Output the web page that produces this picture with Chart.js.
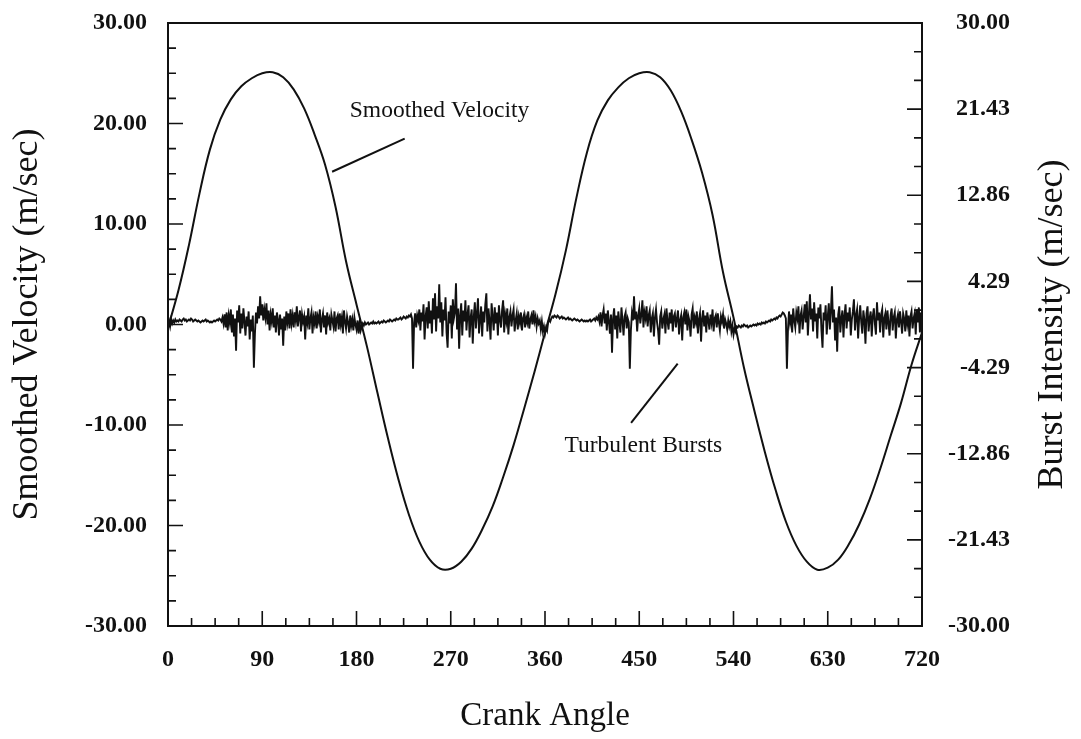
<!DOCTYPE html>
<html>
<head>
<meta charset="utf-8">
<title>Smoothed Velocity and Turbulent Bursts</title>
<script src="https://cdn.jsdelivr.net/npm/chart.js@4.4.0/dist/chart.umd.min.js"></script>
<style>
  html, body { margin: 0; padding: 0; background: #fff; }
  #wrap { width: 1081px; height: 739px; position: relative; }
</style>
</head>
<body>
<div id="wrap"><canvas id="crankChart"></canvas></div>
<script>
// Crank angle spacing (deg) of the two recorded series
const velocityStep = 10;
const burstStep = 1;

// Smoothed velocity (m/sec), 0..720 deg every 10 deg
const smoothedVelocity = [
  -0.3, 3.4, 7.9, 13.0, 17.4, 20.4, 22.4, 23.7, 24.5, 25.0,
  25.1, 24.6, 23.4, 21.5, 18.9, 15.9, 11.7, 6.3, 2.0, -2.2,
  -6.8, -11.3, -15.4, -18.9, -21.6, -23.4, -24.3, -24.3, -23.6, -22.3,
  -20.4, -18.1, -15.2, -12.0, -8.4, -4.7, -0.8, 3.0, 7.4, 12.6,
  17.1, 20.3, 22.3, 23.6, 24.5, 25.0, 25.1, 24.6, 23.3, 21.2,
  18.4, 15.1, 10.9, 5.2, 0.7, -4.3, -8.6, -12.7, -16.4, -19.6,
  -22.0, -23.6, -24.4, -24.2, -23.4, -21.9, -19.9, -17.4, -14.4, -11.1,
  -7.8, -4.0, -0.8
];

// Turbulent burst intensity (m/sec), 0..720 deg every 1 deg
const burstIntensity = [
  -0.4, 0.3, -0.2, 0.5, 0.1, 0.4, 0.2, 0.5, 0.3, 0.4, 0.3, 0.5, 0.4, 0.3, 0.5, 0.6, 0.4, 0.5, 0.3, 0.4,
  0.5, 0.4, 0.6, 0.5, 0.3, 0.4, 0.5, 0.4, 0.3, 0.4, 0.3, 0.2, 0.3, 0.4, 0.3, 0.4, 0.5, 0.3, 0.4, 0.3,
  0.2, 0.3, 0.2, 0.3, 0.4, 0.3, 0.4, 0.5, 0.4, 0.6, 0.5, 0.3, 0.7, 0.1, 1.0, -0.3, 1.2, -0.6, 0.9, 0.2,
  1.5, -0.8, 1.0, -1.2, 0.6, -2.6, 1.4, 0.2, 1.9, -0.9, 1.1, -0.4, 1.6, 0.3, -1.1, 0.8, -0.2, 1.3, -1.5, 0.5,
  -0.7, 0.9, -4.3, -0.9, 1.2, 0.1, 1.8, 0.6, 2.8, 0.9, 2.0, 0.4, 1.5, 0.7, 2.1, 0.0, 1.4, -0.6, 1.0, 0.3,
  1.6, -0.3, 0.9, -0.8, 1.2, 0.5, -1.1, 1.0, -0.5, 0.6, -2.1, 0.8, -0.6, 1.3, 0.2, 1.1, -0.4, 1.5, 0.1, 0.9,
  -0.3, 1.2, 0.4, 1.8, -0.2, 0.7, 1.4, -0.7, 1.0, 0.3, 0.8, -1.5, 0.9, 0.2, 1.6, -0.5, 0.6, 1.2, -0.9, 0.7,
  0.1, 1.3, -0.4, 0.8, 0.3, 1.5, -0.8, 0.5, 1.1, -0.3, 0.9, -1.0, 1.2, 0.2, 0.6, -0.6, 1.0, 0.4, -0.2, 1.3,
  -0.7, 0.6, 0.9, -0.5, 1.1, 0.0, 0.7, -0.9, 1.4, 0.3, -0.4, 0.8, 0.2, -0.8, 0.9, -0.1, 0.5, -0.6, 0.7, 0.0,
  -0.5, 0.4, -0.9, 0.2, -0.6, -0.2, 0.1, -0.1, 0.2, 0.0, 0.1, 0.2, 0.0, 0.1, 0.2, 0.1, 0.3, 0.1, 0.2, 0.1,
  0.2, 0.3, 0.1, 0.2, 0.3, 0.2, 0.4, 0.3, 0.2, 0.3, 0.4, 0.3, 0.5, 0.4, 0.3, 0.4, 0.5, 0.4, 0.6, 0.5,
  0.5, 0.6, 0.7, 0.5, 0.6, 0.8, 0.7, 0.6, 0.8, 0.7, 0.9, 0.8, 1.0, 0.6, -4.4, 0.2, 1.1, -0.3, 0.9, 0.4,
  1.5, -0.6, 1.2, 0.3, 2.0, -1.5, 0.8, 1.7, -0.4, 2.3, 0.1, 1.4, -0.9, 2.6, 0.5, 3.1, -0.7, 1.8, 0.6, 4.0,
  0.2, 2.2, -1.2, 1.5, 0.4, 2.7, -0.8, -2.3, 1.3, 0.1, 1.9, -1.4, 2.5, 0.6, 1.2, 4.1, -0.5, 1.6, -2.4, 0.9,
  2.1, -1.1, 1.4, 0.3, 2.4, -0.6, 1.0, 1.9, -1.3, 0.7, 1.5, -1.9, 0.8, 2.2, -0.4, 1.1, 2.6, -0.9, 0.5, 1.8,
  -1.2, 1.3, 0.2, 2.0, 3.1, -0.7, 1.6, 0.4, -1.5, 2.1, 0.8, -0.6, 1.7, 0.1, 1.2, -1.1, 1.9, 0.5, -0.3, 1.4,
  2.4, -0.8, 1.0, 0.3, 1.6, -1.0, 0.7, 1.3, -0.2, 0.9, 1.5, -0.7, 0.4, 1.1, -0.5, 0.8, 0.2, 1.2, -0.6, 0.6,
  1.0, -0.3, 0.7, 0.2, 1.3, -0.4, 0.5, 0.9, 0.0, 1.4, 0.3, 0.8, -0.2, 0.6, 0.1, 0.4, -0.5, 0.3, -0.7, -0.2,
  -0.9, -0.3, -0.6, 0.2, 0.5, 0.3, 0.6, 0.8, 0.7, 0.9, 0.8, 0.7, 0.9, 0.8, 0.6, 0.7, 0.8, 0.6, 0.7, 0.6,
  0.5, 0.6, 0.7, 0.5, 0.6, 0.5, 0.4, 0.5, 0.6, 0.5, 0.4, 0.5, 0.4, 0.3, 0.4, 0.5, 0.4, 0.3, 0.4, 0.3,
  0.4, 0.3, 0.4, 0.5, 0.3, 0.4, 0.5, 0.6, 0.4, 0.7, 0.5, 0.8, 0.3, 1.2, -0.2, 0.9, 1.5, 0.1, 1.1, -0.6,
  1.4, 0.3, -0.9, 1.0, -2.8, 0.6, 1.6, -0.5, 0.9, -1.4, 1.3, 0.2, -0.8, 1.7, 0.4, -1.1, 0.8, 1.2, -0.4, 0.6,
  0.2, -4.4, -0.6, 1.1, 0.4, 2.8, 0.5, 1.3, -0.7, 0.9, 1.6, 0.1, 1.0, 2.4, -0.3, 1.2, 0.6, 1.8, -0.2, 0.9,
  1.4, -0.8, 0.6, 1.1, -1.2, 0.7, 1.5, 0.2, -0.6, -2.0, 0.8, 1.3, -0.4, 0.5, 1.0, -0.9, 1.6, 0.3, -0.5, 1.2,
  0.1, 1.5, -0.7, 0.8, 1.1, -0.3, 0.6, 1.4, -1.0, 0.4, 0.9, -1.6, 0.7, 1.2, 0.0, 1.5, -0.6, 0.8, 0.3, -1.2,
  1.0, 1.6, -0.4, 0.7, 0.2, 1.3, -0.9, 0.5, 1.1, -1.7, 0.6, 1.4, -0.2, 0.9, -0.8, 1.2, 0.4, -0.5, 1.0, 0.2,
  1.5, -0.7, 0.6, 0.9, -0.3, 1.1, 0.2, -0.6, 0.8, 0.3, 1.0, -0.4, 0.5, 0.1, -0.5, 0.4, -0.2, 0.3, -0.7, -0.1,
  -1.0, -0.4, -0.7, -0.2, -0.3, -0.1, -0.2, -0.3, -0.1, -0.2, 0.0, -0.1, -0.2, -0.1, -0.3, -0.2, -0.1, -0.2, -0.1, 0.0,
  -0.1, 0.0, -0.1, 0.1, 0.0, 0.1, 0.0, 0.2, 0.1, 0.2, 0.1, 0.3, 0.2, 0.3, 0.4, 0.3, 0.5, 0.4, 0.5, 0.6,
  0.5, 0.7, 0.6, 0.8, 0.9, 0.8, 1.0, 1.2, 1.1, 0.9, 0.6, -4.4, -0.5, 1.3, 0.2, 1.0, -0.8, 1.6, 0.4, -0.3,
  1.2, 0.6, 1.8, -0.9, 0.9, 1.4, -0.5, 0.8, 2.0, 0.2, 2.3, -1.1, 1.0, 3.0, 0.5, 1.6, -0.7, 2.2, 0.3, 1.1,
  -1.4, 1.7, 0.6, 2.0, -0.6, -2.3, 1.2, 0.4, 1.9, -1.0, 0.8, 2.1, -0.5, 1.3, 3.8, 0.2, 1.5, -1.6, 0.7, -2.7,
  1.0, 1.8, -0.8, 0.6, 1.4, -1.3, 0.9, 2.0, -0.4, 1.2, 0.3, 1.7, -1.1, 0.5, 1.3, 2.5, -0.6, 0.9, 1.5, -1.4,
  0.7, 1.9, 0.2, -0.9, 1.4, 0.5, -1.9, 1.1, 1.8, -0.7, 0.6, 1.3, -1.2, 0.8, 1.6, 0.1, -1.0, 2.2, 0.4, 1.2,
  -0.8, 1.0, 1.5, -1.3, 0.6, 1.1, -0.5, 1.4, 0.2, -1.1, 0.9, 1.6, -0.6, 0.7, 1.2, -1.4, 0.5, 1.0, -0.3, 1.3,
  0.3, -0.9, 1.1, 0.6, -0.7, 1.4, 0.1, 0.9, -1.2, 0.8, 1.3, -0.4, 0.6, 1.1, -1.0, 1.5, 0.2, 1.7, -0.8, 1.2,
  -0.3
];

// Labelled tick values for each axis
const angleTicks = [0, 90, 180, 270, 360, 450, 540, 630, 720];
const velocityTicks = [-30, -20, -10, 0, 10, 20, 30];
const burstTicks = [-30, -21.43, -12.86, -4.29, 4.29, 12.86, 21.43, 30];

// Callout labels, anchored in (crank angle, velocity) units
const callouts = [
  { text: 'Smoothed Velocity', at: [173.6, 20.6], from: [156.7, 15.2], to: [226, 18.5] },
  { text: 'Turbulent Bursts', at: [378.6, -12.7], from: [442.2, -9.8], to: [486.7, -3.9] }
];

const ink = '#111';
const serif = "'Liberation Serif', 'Times New Roman', serif";

const velocityPoints = smoothedVelocity.map((v, i) => ({ x: i * velocityStep, y: v }));
const burstPoints = burstIntensity.map((v, i) => ({ x: i * burstStep, y: v }));

function setTicks(list) {
  return scale => { scale.ticks = list.map(v => ({ value: v })); };
}

// frame, inward tick marks, callouts and the right-hand title
const decorations = {
  id: 'decorations',
  afterDraw(chart) {
    const { ctx, chartArea: a, scales } = chart;
    ctx.save();
    ctx.strokeStyle = ink;
    ctx.fillStyle = ink;
    ctx.lineWidth = 2;
    ctx.strokeRect(a.left, a.top, a.right - a.left, a.bottom - a.top);

    function eachTick(majors, parts, scale, draw) {
      majors.forEach((v, i) => {
        draw(scale.getPixelForValue(v), 15);
        if (i < majors.length - 1) {
          for (let k = 1; k < parts; k++) {
            draw(scale.getPixelForValue(v + (majors[i + 1] - v) * k / parts), 8);
          }
        }
      });
    }
    ctx.lineWidth = 1.6;
    ctx.beginPath();
    eachTick(velocityTicks, 4, scales.y, (p, len) => { ctx.moveTo(a.left, p); ctx.lineTo(a.left + len, p); });
    eachTick(burstTicks, 3, scales.y2, (p, len) => { ctx.moveTo(a.right, p); ctx.lineTo(a.right - len, p); });
    eachTick(angleTicks, 4, scales.x, (p, len) => { ctx.moveTo(p, a.bottom); ctx.lineTo(p, a.bottom - len); });
    ctx.stroke();

    ctx.font = '23.5px ' + serif;
    ctx.textAlign = 'left';
    ctx.textBaseline = 'alphabetic';
    ctx.lineWidth = 2;
    callouts.forEach(c => {
      ctx.beginPath();
      ctx.moveTo(scales.x.getPixelForValue(c.from[0]), scales.y.getPixelForValue(c.from[1]));
      ctx.lineTo(scales.x.getPixelForValue(c.to[0]), scales.y.getPixelForValue(c.to[1]));
      ctx.stroke();
      ctx.fillText(c.text, scales.x.getPixelForValue(c.at[0]), scales.y.getPixelForValue(c.at[1]));
    });

    // right axis title reads bottom to top like the left one
    ctx.font = '36px ' + serif;
    ctx.textAlign = 'center';
    ctx.textBaseline = 'middle';
    ctx.translate(chart.width - 28, (a.top + a.bottom) / 2);
    ctx.rotate(-Math.PI / 2);
    ctx.fillText('Burst Intensity (m/sec)', 0, 0);
    ctx.restore();
  }
};

const tickFont = { family: serif, size: 24, weight: 'bold' };
const titleFont = { family: serif, size: 36, weight: 'normal', lineHeight: 1 };

new Chart(document.getElementById('crankChart'), {
  type: 'line',
  data: {
    datasets: [
      {
        label: 'Smoothed Velocity',
        data: velocityPoints,
        yAxisID: 'y',
        borderColor: ink,
        borderWidth: 2,
        pointRadius: 0,
        tension: 0.4,
        fill: false
      },
      {
        label: 'Turbulent Bursts',
        data: burstPoints,
        yAxisID: 'y2',
        borderColor: ink,
        borderWidth: 1.9,
        pointRadius: 0,
        tension: 0,
        fill: false
      }
    ]
  },
  options: {
    responsive: true,
    maintainAspectRatio: false,
    animation: false,
    parsing: false,
    layout: { padding: { left: 10, right: 71, top: 23, bottom: 0 } },
    plugins: { legend: { display: false }, tooltip: { enabled: false } },
    scales: {
      x: {
        type: 'linear',
        min: 0,
        max: 720,
        grid: { display: false },
        border: { display: false },
        afterBuildTicks: setTicks(angleTicks),
        afterFit: s => { s.height = 113; s.paddingLeft = 0; s.paddingRight = 0; },
        ticks: { color: ink, font: tickFont, padding: 11, maxRotation: 0, autoSkip: false },
        title: {
          display: true, text: 'Crank Angle', color: ink,
          font: { family: serif, size: 33, weight: 'normal', lineHeight: 1 },
          padding: { top: 6, bottom: 6 }
        }
      },
      y: {
        position: 'left',
        min: -30,
        max: 30,
        grid: { display: false },
        border: { display: false },
        afterBuildTicks: setTicks(velocityTicks),
        afterFit: s => { s.width = 158; s.paddingTop = 0; s.paddingBottom = 0; },
        ticks: { color: ink, font: tickFont, padding: 13, callback: v => v.toFixed(2) },
        title: { display: true, text: 'Smoothed Velocity (m/sec)', color: ink, font: titleFont, padding: 0 }
      },
      y2: {
        position: 'right',
        min: -30,
        max: 30,
        grid: { display: false },
        border: { display: false },
        afterBuildTicks: setTicks(burstTicks),
        afterFit: s => { s.width = 88; s.paddingTop = 0; s.paddingBottom = 0; },
        ticks: { color: ink, font: tickFont, padding: 22, crossAlign: 'far', callback: v => v.toFixed(2) }
      }
    }
  },
  plugins: [decorations]
});
</script>
</body>
</html>
